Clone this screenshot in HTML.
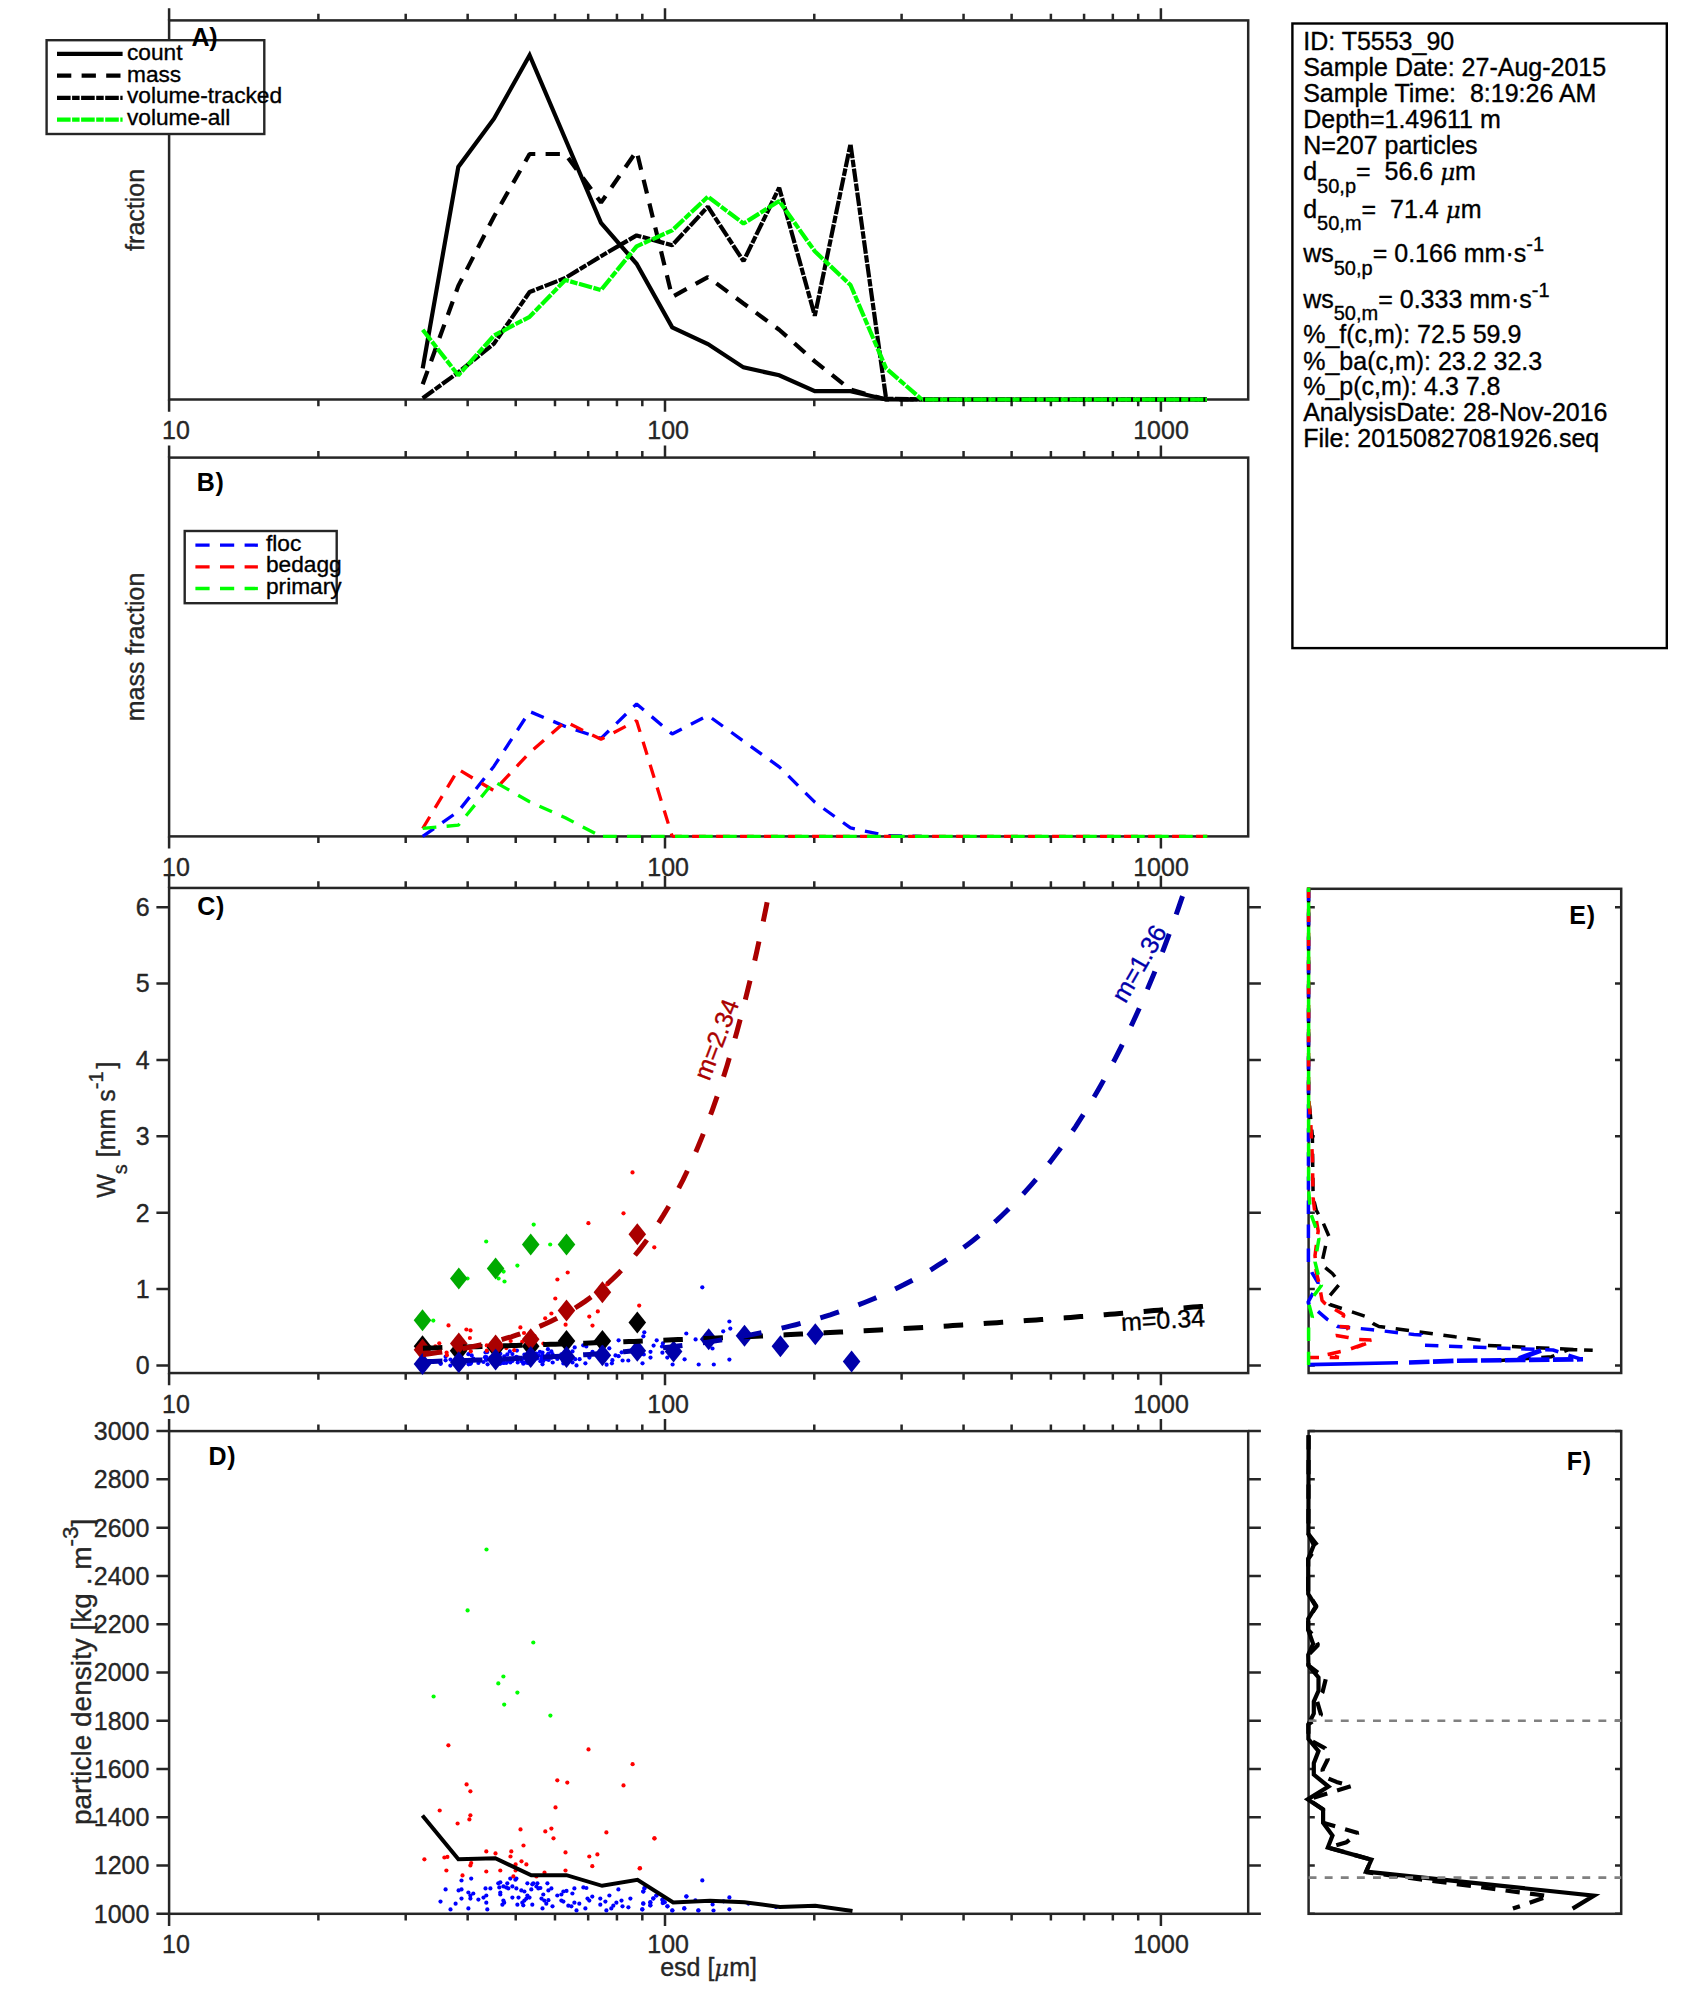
<!DOCTYPE html>
<html lang="en"><head><meta charset="utf-8"><title>T5553_90 particle summary</title>
<style>html,body{margin:0;padding:0;background:#fff}svg{display:block}text{font-family:"Liberation Sans", sans-serif;stroke-width:0.35px;stroke-linejoin:round}</style></head><body>
<svg width="1694" height="2015" viewBox="0 0 1694 2015">
<rect width="1694" height="2015" fill="#fff"/>
<rect x="169.10" y="20.40" width="1079.10" height="379.10" fill="none" stroke="#262626" stroke-width="2.5"/>
<path d="M169.10 399.50v12.2M169.10 20.40v-12.2M318.38 399.50v6.7M318.38 20.40v-6.7M405.70 399.50v6.7M405.70 20.40v-6.7M467.66 399.50v6.7M467.66 20.40v-6.7M515.72 399.50v6.7M515.72 20.40v-6.7M554.99 399.50v6.7M554.99 20.40v-6.7M588.18 399.50v6.7M588.18 20.40v-6.7M616.94 399.50v6.7M616.94 20.40v-6.7M642.31 399.50v6.7M642.31 20.40v-6.7M665.00 399.50v12.2M665.00 20.40v-12.2M814.28 399.50v6.7M814.28 20.40v-6.7M901.60 399.50v6.7M901.60 20.40v-6.7M963.56 399.50v6.7M963.56 20.40v-6.7M1011.62 399.50v6.7M1011.62 20.40v-6.7M1050.89 399.50v6.7M1050.89 20.40v-6.7M1084.08 399.50v6.7M1084.08 20.40v-6.7M1112.84 399.50v6.7M1112.84 20.40v-6.7M1138.21 399.50v6.7M1138.21 20.40v-6.7M1160.90 399.50v12.2M1160.90 20.40v-12.2" stroke="#262626" stroke-width="2.5" fill="none"/>
<text x="176.00" y="439.10" font-size="25" text-anchor="middle" fill="#262626" stroke="#262626" font-weight="normal" >10</text>
<text x="668.10" y="439.10" font-size="25" text-anchor="middle" fill="#262626" stroke="#262626" font-weight="normal" >100</text>
<text x="1161.00" y="439.10" font-size="25" text-anchor="middle" fill="#262626" stroke="#262626" font-weight="normal" >1000</text>
<g id="panelA-lines">
<polyline points="422.7,368.4 458.3,166.9 494.0,118.7 529.6,55.3 565.3,139.0 601.0,222.9 636.6,263.8 672.2,327.3 707.9,344.0 743.5,367.4 779.2,375.3 814.8,391.2 850.5,391.2 886.1,399.5 921.8,399.5 957.5,399.5 993.1,399.5 1028.8,399.5 1064.4,399.5 1100.0,399.5 1135.7,399.5 1171.3,399.5 1207.0,399.5" fill="none" stroke="#000" stroke-width="4.2" stroke-linejoin="miter" stroke-miterlimit="10" />
<polyline points="422.7,384.3 458.3,286.0 494.0,216.5 529.6,154.0 565.3,154.0 601.0,202.6 636.6,151.0 672.2,297.0 707.9,277.1 743.5,303.5 779.2,329.7 814.8,361.4 850.5,389.6 886.1,399.5 921.8,399.5 957.5,399.5 993.1,399.5 1028.8,399.5 1064.4,399.5 1100.0,399.5 1135.7,399.5 1171.3,399.5 1207.0,399.5" fill="none" stroke="#000" stroke-width="4.2" stroke-linejoin="bevel" stroke-miterlimit="10" stroke-dasharray="14.3 10.3" />
<polyline points="422.7,398.2 458.3,372.4 494.0,343.6 529.6,292.0 565.3,278.0 601.0,256.2 636.6,235.4 672.2,245.3 707.9,206.6 743.5,261.2 779.2,187.7 814.8,315.8 850.5,144.1 886.1,398.6 921.8,399.5 957.5,399.5 993.1,399.5 1028.8,399.5 1064.4,399.5 1100.0,399.5 1135.7,399.5 1171.3,399.5 1207.0,399.5" fill="none" stroke="#000" stroke-width="4.2" stroke-linejoin="bevel" stroke-miterlimit="10" stroke-dasharray="13.6 1.5 7.5 1.5" />
<polyline points="422.7,329.7 458.3,375.3 494.0,335.6 529.6,316.8 565.3,280.0 601.0,290.0 636.6,246.3 672.2,230.4 707.9,196.7 743.5,223.5 779.2,201.0 814.8,251.3 850.5,285.0 886.1,368.4 921.8,399.5" fill="none" stroke="#00ff00" stroke-width="4.2" stroke-linejoin="bevel" stroke-miterlimit="10" stroke-dasharray="13.6 1.5 7.5 1.5" />
<path d="M921.80 399.50H923.16M925.06 399.50H938.26M940.16 399.50H947.26M949.16 399.50H962.36M964.26 399.50H971.36M973.26 399.50H986.46M988.36 399.50H995.46M997.36 399.50H1010.56M1012.46 399.50H1019.56M1021.46 399.50H1034.66M1036.56 399.50H1043.66M1045.56 399.50H1058.76M1060.66 399.50H1067.76M1069.66 399.50H1082.86M1084.76 399.50H1091.86M1093.76 399.50H1106.96M1108.86 399.50H1115.96M1117.86 399.50H1131.06M1132.96 399.50H1140.06M1141.96 399.50H1155.16M1157.06 399.50H1164.16M1166.06 399.50H1179.26M1181.16 399.50H1188.26M1190.16 399.50H1203.36M1205.26 399.50H1207.00" stroke="#00ff00" stroke-width="4.2" fill="none"/>
</g>
<text transform="translate(143.6,209.9) rotate(-90)" font-size="25" text-anchor="middle" fill="#262626" stroke="#262626">fraction</text>
<g id="legendA">
<rect x="46.6" y="40.2" width="217.7" height="93.8" fill="#fff" stroke="#262626" stroke-width="2.4"/>
<line x1="57.00" y1="53.90" x2="122.60" y2="53.90" stroke="#000" stroke-width="4.2" />
<line x1="57.00" y1="75.70" x2="122.60" y2="75.70" stroke="#000" stroke-width="4.2" stroke-dasharray="14.3 10.3"/>
<line x1="57.00" y1="97.80" x2="122.60" y2="97.80" stroke="#000" stroke-width="4.2" stroke-dasharray="13.6 1.5 7.5 1.5"/>
<line x1="57.00" y1="119.60" x2="122.60" y2="119.60" stroke="#00ff00" stroke-width="4.2" stroke-dasharray="13.6 1.5 7.5 1.5"/>
<text x="127.00" y="59.50" font-size="22.7" text-anchor="start" fill="#000" stroke="#000" font-weight="normal" >count</text>
<text x="127.00" y="81.60" font-size="22.7" text-anchor="start" fill="#000" stroke="#000" font-weight="normal" >mass</text>
<text x="127.00" y="103.40" font-size="22.7" text-anchor="start" fill="#000" stroke="#000" font-weight="normal" >volume-tracked</text>
<text x="127.00" y="125.20" font-size="22.7" text-anchor="start" fill="#000" stroke="#000" font-weight="normal" >volume-all</text>
</g>
<text x="191.60" y="46.20" font-size="25" text-anchor="start" fill="#000" stroke="#000" font-weight="bold" style="stroke-width:0" letter-spacing="-0.3">A)</text>
<rect x="169.10" y="457.60" width="1079.10" height="378.80" fill="none" stroke="#262626" stroke-width="2.5"/>
<path d="M169.10 836.40v12.2M169.10 457.60v-12.2M318.38 836.40v6.7M318.38 457.60v-6.7M405.70 836.40v6.7M405.70 457.60v-6.7M467.66 836.40v6.7M467.66 457.60v-6.7M515.72 836.40v6.7M515.72 457.60v-6.7M554.99 836.40v6.7M554.99 457.60v-6.7M588.18 836.40v6.7M588.18 457.60v-6.7M616.94 836.40v6.7M616.94 457.60v-6.7M642.31 836.40v6.7M642.31 457.60v-6.7M665.00 836.40v12.2M665.00 457.60v-12.2M814.28 836.40v6.7M814.28 457.60v-6.7M901.60 836.40v6.7M901.60 457.60v-6.7M963.56 836.40v6.7M963.56 457.60v-6.7M1011.62 836.40v6.7M1011.62 457.60v-6.7M1050.89 836.40v6.7M1050.89 457.60v-6.7M1084.08 836.40v6.7M1084.08 457.60v-6.7M1112.84 836.40v6.7M1112.84 457.60v-6.7M1138.21 836.40v6.7M1138.21 457.60v-6.7M1160.90 836.40v12.2M1160.90 457.60v-12.2" stroke="#262626" stroke-width="2.5" fill="none"/>
<text x="176.00" y="876.00" font-size="25" text-anchor="middle" fill="#262626" stroke="#262626" font-weight="normal" >10</text>
<text x="668.10" y="876.00" font-size="25" text-anchor="middle" fill="#262626" stroke="#262626" font-weight="normal" >100</text>
<text x="1161.00" y="876.00" font-size="25" text-anchor="middle" fill="#262626" stroke="#262626" font-weight="normal" >1000</text>
<g id="panelB-lines">
<polyline points="422.7,836.4 458.3,811.4 494.0,766.2 529.6,711.5 565.3,726.4 601.0,738.4 636.6,703.9 672.2,734.0 707.9,715.4 743.5,741.1 779.2,766.8 814.8,802.2 850.5,827.9 886.1,835.6 921.8,836.4" fill="none" stroke="#0000ff" stroke-width="3.3" stroke-linejoin="bevel" stroke-miterlimit="10" stroke-dasharray="13.7 10.3" />
<polyline points="422.7,828.5 458.3,769.4 494.0,790.7 529.6,752.6 565.3,721.6 601.0,739.3 636.6,720.7 672.2,836.4" fill="none" stroke="#ff0000" stroke-width="3.3" stroke-linejoin="bevel" stroke-miterlimit="10" stroke-dasharray="13.7 10.3" />
<polyline points="422.7,828.4 458.3,825.2 494.0,781.5 529.6,801.8 565.3,817.8 601.0,836.4" fill="none" stroke="#00ff00" stroke-width="3.3" stroke-linejoin="bevel" stroke-miterlimit="10" stroke-dasharray="13.7 10.3" />
<path d="M672.25 836.40H681.80M692.10 836.40H705.80M716.10 836.40H729.80M740.10 836.40H753.80M764.10 836.40H777.80M788.10 836.40H801.80M812.10 836.40H825.80M836.10 836.40H849.80M860.10 836.40H873.80M884.10 836.40H897.80M908.10 836.40H921.80M932.10 836.40H945.80M956.10 836.40H969.80M980.10 836.40H993.80M1004.10 836.40H1017.80M1028.10 836.40H1041.80M1052.10 836.40H1065.80M1076.10 836.40H1089.80M1100.10 836.40H1113.80M1124.10 836.40H1137.80M1148.10 836.40H1161.80M1172.10 836.40H1185.80M1196.10 836.40H1207.30" stroke="#ff0000" stroke-width="3.3" fill="none"/>
<path d="M603.00 836.40H616.70M627.00 836.40H640.70M651.00 836.40H664.70M675.00 836.40H688.70M699.00 836.40H712.70M723.00 836.40H736.70M747.00 836.40H760.70M771.00 836.40H784.70M795.00 836.40H808.70M819.00 836.40H832.70M843.00 836.40H856.70M867.00 836.40H880.70M891.00 836.40H904.70M915.00 836.40H928.70M939.00 836.40H952.70M963.00 836.40H976.70M987.00 836.40H1000.70M1011.00 836.40H1024.70M1035.00 836.40H1048.70M1059.00 836.40H1072.70M1083.00 836.40H1096.70M1107.00 836.40H1120.70M1131.00 836.40H1144.70M1155.00 836.40H1168.70M1179.00 836.40H1192.70M1203.00 836.40H1207.30" stroke="#00ff00" stroke-width="3.3" fill="none"/>
</g>
<text transform="translate(143.6,647.0) rotate(-90)" font-size="25" text-anchor="middle" fill="#262626" stroke="#262626">mass fraction</text>
<g id="legendB">
<rect x="184.7" y="531.0" width="152.0" height="72.2" fill="#fff" stroke="#262626" stroke-width="2.4"/>
<line x1="195.40" y1="545.20" x2="257.90" y2="545.20" stroke="#0000ff" stroke-width="3.3" stroke-dasharray="14.2 10.4"/>
<line x1="195.40" y1="566.90" x2="257.90" y2="566.90" stroke="#ff0000" stroke-width="3.3" stroke-dasharray="14.2 10.4"/>
<line x1="195.40" y1="588.50" x2="257.90" y2="588.50" stroke="#00ff00" stroke-width="3.3" stroke-dasharray="14.2 10.4"/>
<text x="266.00" y="550.50" font-size="22.7" text-anchor="start" fill="#000" stroke="#000" font-weight="normal" >floc</text>
<text x="266.00" y="572.30" font-size="22.7" text-anchor="start" fill="#000" stroke="#000" font-weight="normal" >bedagg</text>
<text x="266.00" y="593.90" font-size="22.7" text-anchor="start" fill="#000" stroke="#000" font-weight="normal" >primary</text>
</g>
<text x="196.70" y="491.00" font-size="25" text-anchor="start" fill="#000" stroke="#000" font-weight="bold" style="stroke-width:0" letter-spacing="0.8">B)</text>
<rect x="169.10" y="887.95" width="1079.10" height="485.10" fill="none" stroke="#262626" stroke-width="2.5"/>
<path d="M169.10 1373.05v12.2M169.10 887.95v-12.2M318.38 1373.05v6.7M318.38 887.95v-6.7M405.70 1373.05v6.7M405.70 887.95v-6.7M467.66 1373.05v6.7M467.66 887.95v-6.7M515.72 1373.05v6.7M515.72 887.95v-6.7M554.99 1373.05v6.7M554.99 887.95v-6.7M588.18 1373.05v6.7M588.18 887.95v-6.7M616.94 1373.05v6.7M616.94 887.95v-6.7M642.31 1373.05v6.7M642.31 887.95v-6.7M665.00 1373.05v12.2M665.00 887.95v-12.2M814.28 1373.05v6.7M814.28 887.95v-6.7M901.60 1373.05v6.7M901.60 887.95v-6.7M963.56 1373.05v6.7M963.56 887.95v-6.7M1011.62 1373.05v6.7M1011.62 887.95v-6.7M1050.89 1373.05v6.7M1050.89 887.95v-6.7M1084.08 1373.05v6.7M1084.08 887.95v-6.7M1112.84 1373.05v6.7M1112.84 887.95v-6.7M1138.21 1373.05v6.7M1138.21 887.95v-6.7M1160.90 1373.05v12.2M1160.90 887.95v-12.2" stroke="#262626" stroke-width="2.5" fill="none"/>
<text x="176.00" y="1412.65" font-size="25" text-anchor="middle" fill="#262626" stroke="#262626" font-weight="normal" >10</text>
<text x="668.10" y="1412.65" font-size="25" text-anchor="middle" fill="#262626" stroke="#262626" font-weight="normal" >100</text>
<text x="1161.00" y="1412.65" font-size="25" text-anchor="middle" fill="#262626" stroke="#262626" font-weight="normal" >1000</text>
<text x="149.70" y="1374.40" font-size="25" text-anchor="end" fill="#262626" stroke="#262626" font-weight="normal" >0</text>
<text x="149.70" y="1298.01" font-size="25" text-anchor="end" fill="#262626" stroke="#262626" font-weight="normal" >1</text>
<text x="149.70" y="1221.62" font-size="25" text-anchor="end" fill="#262626" stroke="#262626" font-weight="normal" >2</text>
<text x="149.70" y="1145.23" font-size="25" text-anchor="end" fill="#262626" stroke="#262626" font-weight="normal" >3</text>
<text x="149.70" y="1068.84" font-size="25" text-anchor="end" fill="#262626" stroke="#262626" font-weight="normal" >4</text>
<text x="149.70" y="992.45" font-size="25" text-anchor="end" fill="#262626" stroke="#262626" font-weight="normal" >5</text>
<text x="149.70" y="916.06" font-size="25" text-anchor="end" fill="#262626" stroke="#262626" font-weight="normal" >6</text>
<path d="M169.10 1365.50h-12.7M1248.20 1365.50h12.7M169.10 1289.11h-12.7M1248.20 1289.11h12.7M169.10 1212.72h-12.7M1248.20 1212.72h12.7M169.10 1136.33h-12.7M1248.20 1136.33h12.7M169.10 1059.94h-12.7M1248.20 1059.94h12.7M169.10 983.55h-12.7M1248.20 983.55h12.7M169.10 907.16h-12.7M1248.20 907.16h12.7" stroke="#262626" stroke-width="2.5" fill="none"/>
<clipPath id="clipC"><rect x="169.10" y="886.95" width="1079.10" height="486.10"/></clipPath>
<g fill="#0000ff" clip-path="url(#clipC)"><circle cx="461.5" cy="1360.8" r="2.1"/><circle cx="471.2" cy="1362.7" r="2.1"/><circle cx="445.6" cy="1356.7" r="2.1"/><circle cx="458.6" cy="1363.4" r="2.1"/><circle cx="461.5" cy="1358.2" r="2.1"/><circle cx="468.4" cy="1360.3" r="2.1"/><circle cx="470.4" cy="1363.6" r="2.1"/><circle cx="473.3" cy="1358.6" r="2.1"/><circle cx="470.4" cy="1363.7" r="2.1"/><circle cx="461.5" cy="1359.5" r="2.1"/><circle cx="455.6" cy="1363.5" r="2.1"/><circle cx="440.5" cy="1363.3" r="2.1"/><circle cx="450.5" cy="1359.6" r="2.1"/><circle cx="468.4" cy="1354.2" r="2.1"/><circle cx="478.4" cy="1363.0" r="2.1"/><circle cx="483.5" cy="1362.0" r="2.1"/><circle cx="486.3" cy="1357.0" r="2.1"/><circle cx="485.5" cy="1352.5" r="2.1"/><circle cx="490.4" cy="1357.7" r="2.1"/><circle cx="486.3" cy="1359.9" r="2.1"/><circle cx="487.3" cy="1352.1" r="2.1"/><circle cx="498.3" cy="1363.7" r="2.1"/><circle cx="500.3" cy="1353.8" r="2.1"/><circle cx="499.3" cy="1361.2" r="2.1"/><circle cx="503.4" cy="1362.8" r="2.1"/><circle cx="506.2" cy="1363.0" r="2.1"/><circle cx="508.3" cy="1361.0" r="2.1"/><circle cx="507.3" cy="1354.4" r="2.1"/><circle cx="510.3" cy="1362.4" r="2.1"/><circle cx="515.4" cy="1357.6" r="2.1"/><circle cx="516.4" cy="1356.8" r="2.1"/><circle cx="512.4" cy="1360.2" r="2.1"/><circle cx="516.4" cy="1358.0" r="2.1"/><circle cx="500.3" cy="1363.5" r="2.1"/><circle cx="500.3" cy="1363.6" r="2.1"/><circle cx="503.4" cy="1362.1" r="2.1"/><circle cx="504.2" cy="1356.3" r="2.1"/><circle cx="502.4" cy="1359.6" r="2.1"/><circle cx="512.4" cy="1360.9" r="2.1"/><circle cx="518.5" cy="1357.5" r="2.1"/><circle cx="517.4" cy="1359.2" r="2.1"/><circle cx="521.3" cy="1361.1" r="2.1"/><circle cx="524.4" cy="1354.7" r="2.1"/><circle cx="527.4" cy="1356.0" r="2.1"/><circle cx="532.3" cy="1361.7" r="2.1"/><circle cx="533.3" cy="1357.7" r="2.1"/><circle cx="537.4" cy="1358.3" r="2.1"/><circle cx="536.4" cy="1353.6" r="2.1"/><circle cx="538.4" cy="1355.6" r="2.1"/><circle cx="540.4" cy="1361.2" r="2.1"/><circle cx="531.3" cy="1352.0" r="2.1"/><circle cx="527.4" cy="1363.0" r="2.1"/><circle cx="529.5" cy="1359.7" r="2.1"/><circle cx="526.4" cy="1355.2" r="2.1"/><circle cx="524.4" cy="1362.7" r="2.1"/><circle cx="522.3" cy="1358.8" r="2.1"/><circle cx="523.3" cy="1363.7" r="2.1"/><circle cx="532.3" cy="1356.4" r="2.1"/><circle cx="547.4" cy="1355.1" r="2.1"/><circle cx="551.4" cy="1357.7" r="2.1"/><circle cx="548.4" cy="1353.6" r="2.1"/><circle cx="543.3" cy="1360.9" r="2.1"/><circle cx="541.5" cy="1356.1" r="2.1"/><circle cx="544.3" cy="1357.4" r="2.1"/><circle cx="548.4" cy="1357.6" r="2.1"/><circle cx="546.3" cy="1359.2" r="2.1"/><circle cx="552.5" cy="1354.1" r="2.1"/><circle cx="542.5" cy="1352.6" r="2.1"/><circle cx="557.3" cy="1359.0" r="2.1"/><circle cx="561.4" cy="1356.5" r="2.1"/><circle cx="563.4" cy="1363.5" r="2.1"/><circle cx="561.4" cy="1354.3" r="2.1"/><circle cx="563.4" cy="1361.3" r="2.1"/><circle cx="702.3" cy="1287.3" r="2.1"/><circle cx="729.4" cy="1321.5" r="2.1"/><circle cx="730.3" cy="1328.6" r="2.1"/><circle cx="723.2" cy="1331.3" r="2.1"/><circle cx="729.4" cy="1359.6" r="2.1"/><circle cx="574.7" cy="1347.4" r="2.1"/><circle cx="583.2" cy="1345.3" r="2.1"/><circle cx="586.3" cy="1346.5" r="2.1"/><circle cx="572.5" cy="1351.4" r="2.1"/><circle cx="592.5" cy="1351.8" r="2.1"/><circle cx="609.3" cy="1348.3" r="2.1"/><circle cx="618.6" cy="1340.3" r="2.1"/><circle cx="621.7" cy="1352.3" r="2.1"/><circle cx="615.5" cy="1355.4" r="2.1"/><circle cx="618.6" cy="1356.2" r="2.1"/><circle cx="575.2" cy="1359.2" r="2.1"/><circle cx="579.6" cy="1359.2" r="2.1"/><circle cx="589.4" cy="1357.6" r="2.1"/><circle cx="612.4" cy="1360.2" r="2.1"/><circle cx="622.6" cy="1360.5" r="2.1"/><circle cx="628.3" cy="1360.5" r="2.1"/><circle cx="572.5" cy="1362.4" r="2.1"/><circle cx="576.5" cy="1365.4" r="2.1"/><circle cx="585.4" cy="1363.3" r="2.1"/><circle cx="606.6" cy="1364.7" r="2.1"/><circle cx="611.9" cy="1363.3" r="2.1"/><circle cx="642.5" cy="1363.3" r="2.1"/><circle cx="644.3" cy="1332.3" r="2.1"/><circle cx="643.4" cy="1336.3" r="2.1"/><circle cx="656.7" cy="1340.3" r="2.1"/><circle cx="653.6" cy="1345.6" r="2.1"/><circle cx="650.5" cy="1351.8" r="2.1"/><circle cx="650.5" cy="1357.6" r="2.1"/><circle cx="643.8" cy="1354.5" r="2.1"/><circle cx="662.9" cy="1343.4" r="2.1"/><circle cx="662.0" cy="1346.5" r="2.1"/><circle cx="662.4" cy="1352.7" r="2.1"/><circle cx="667.3" cy="1357.6" r="2.1"/><circle cx="672.6" cy="1364.5" r="2.1"/><circle cx="684.6" cy="1359.3" r="2.1"/><circle cx="686.3" cy="1333.5" r="2.1"/><circle cx="695.6" cy="1339.4" r="2.1"/><circle cx="698.7" cy="1364.5" r="2.1"/><circle cx="712.5" cy="1348.5" r="2.1"/><circle cx="713.8" cy="1364.5" r="2.1"/><circle cx="445.6" cy="1360.3" r="2.1"/><circle cx="450.4" cy="1365.6" r="2.1"/><circle cx="440.7" cy="1363.8" r="2.1"/><circle cx="471.7" cy="1355.4" r="2.1"/><circle cx="468.6" cy="1364.3" r="2.1"/><circle cx="485.0" cy="1357.2" r="2.1"/><circle cx="485.9" cy="1359.0" r="2.1"/><circle cx="487.6" cy="1364.3" r="2.1"/><circle cx="503.6" cy="1363.0" r="2.1"/><circle cx="509.8" cy="1351.4" r="2.1"/><circle cx="516.9" cy="1350.6" r="2.1"/><circle cx="512.4" cy="1354.1" r="2.1"/><circle cx="517.7" cy="1362.5" r="2.1"/><circle cx="523.1" cy="1362.5" r="2.1"/><circle cx="539.9" cy="1351.9" r="2.1"/><circle cx="542.5" cy="1355.4" r="2.1"/><circle cx="541.7" cy="1358.5" r="2.1"/><circle cx="542.5" cy="1364.3" r="2.1"/><circle cx="547.9" cy="1349.2" r="2.1"/><circle cx="551.4" cy="1351.4" r="2.1"/><circle cx="548.7" cy="1359.9" r="2.1"/><circle cx="552.7" cy="1362.5" r="2.1"/><circle cx="478.8" cy="1361.6" r="2.1"/></g>
<g fill="#ff0000"><circle cx="632.5" cy="1172.4" r="2.1"/><circle cx="623.5" cy="1213.3" r="2.1"/><circle cx="588.4" cy="1223.2" r="2.1"/><circle cx="654.3" cy="1247.3" r="2.1"/><circle cx="567.7" cy="1272.5" r="2.1"/><circle cx="557.4" cy="1279.5" r="2.1"/><circle cx="555.3" cy="1298.5" r="2.1"/><circle cx="639.2" cy="1305.6" r="2.1"/><circle cx="597.8" cy="1311.4" r="2.1"/><circle cx="551.4" cy="1313.5" r="2.1"/><circle cx="589.3" cy="1316.6" r="2.1"/><circle cx="545.2" cy="1318.3" r="2.1"/><circle cx="592.5" cy="1325.6" r="2.1"/><circle cx="565.6" cy="1324.7" r="2.1"/><circle cx="448.5" cy="1325.4" r="2.1"/><circle cx="520.4" cy="1327.4" r="2.1"/><circle cx="466.4" cy="1329.5" r="2.1"/><circle cx="470.5" cy="1330.4" r="2.1"/><circle cx="524.0" cy="1333.0" r="2.1"/><circle cx="469.9" cy="1338.0" r="2.1"/><circle cx="439.3" cy="1343.3" r="2.1"/><circle cx="510.7" cy="1341.0" r="2.1"/><circle cx="543.4" cy="1343.6" r="2.1"/><circle cx="522.2" cy="1341.9" r="2.1"/><circle cx="486.8" cy="1345.4" r="2.1"/><circle cx="470.8" cy="1351.3" r="2.1"/><circle cx="486.8" cy="1350.7" r="2.1"/><circle cx="514.2" cy="1350.2" r="2.1"/><circle cx="446.6" cy="1352.5" r="2.1"/><circle cx="446.9" cy="1355.2" r="2.1"/><circle cx="607.2" cy="1284.3" r="2.1"/><circle cx="435.4" cy="1346.3" r="2.1"/><circle cx="459.3" cy="1353.4" r="2.1"/><circle cx="499.2" cy="1343.6" r="2.1"/><circle cx="506.3" cy="1348.1" r="2.1"/><circle cx="526.6" cy="1339.2" r="2.1"/><circle cx="534.6" cy="1336.2" r="2.1"/></g>
<g fill="#00ff00"><circle cx="533.7" cy="1224.6" r="2.1"/><circle cx="486.2" cy="1241.5" r="2.1"/><circle cx="550.2" cy="1244.5" r="2.1"/><circle cx="517.4" cy="1265.6" r="2.1"/><circle cx="503.6" cy="1271.6" r="2.1"/><circle cx="467.5" cy="1278.5" r="2.1"/><circle cx="498.6" cy="1278.5" r="2.1"/><circle cx="504.5" cy="1281.5" r="2.1"/><circle cx="433.3" cy="1320.6" r="2.1"/></g>
<g fill="#000"><path d="M422.5 1335.3L431.3 1346.3L422.5 1357.3L413.7 1346.3z"/><path d="M458.6 1339.7L467.4 1350.7L458.6 1361.7L449.8 1350.7z"/><path d="M495.6 1336.5L504.4 1347.5L495.6 1358.5L486.8 1347.5z"/><path d="M530.7 1335.3L539.5 1346.3L530.7 1357.3L521.9 1346.3z"/><path d="M566.5 1330.0L575.3 1341.0L566.5 1352.0L557.7 1341.0z"/><path d="M602.4 1330.0L611.2 1341.0L602.4 1352.0L593.6 1341.0z"/><path d="M637.3 1311.4L646.1 1322.4L637.3 1333.4L628.5 1322.4z"/></g>
<g fill="#aa0000"><path d="M422.5 1338.8L431.3 1349.8L422.5 1360.8L413.7 1349.8z"/><path d="M458.8 1332.6L467.6 1343.6L458.8 1354.6L450.0 1343.6z"/><path d="M495.6 1334.4L504.4 1345.4L495.6 1356.4L486.8 1345.4z"/><path d="M530.7 1328.2L539.5 1339.2L530.7 1350.2L521.9 1339.2z"/><path d="M566.5 1299.4L575.3 1310.4L566.5 1321.4L557.7 1310.4z"/><path d="M602.4 1281.3L611.2 1292.3L602.4 1303.3L593.6 1292.3z"/><path d="M637.3 1223.2L646.1 1234.2L637.3 1245.2L628.5 1234.2z"/></g>
<g fill="#00aa00"><path d="M422.5 1309.3L431.3 1320.3L422.5 1331.3L413.7 1320.3z"/><path d="M458.8 1267.5L467.6 1278.5L458.8 1289.5L450.0 1278.5z"/><path d="M495.6 1257.4L504.4 1268.4L495.6 1279.4L486.8 1268.4z"/><path d="M530.7 1233.5L539.5 1244.5L530.7 1255.5L521.9 1244.5z"/><path d="M566.5 1233.5L575.3 1244.5L566.5 1255.5L557.7 1244.5z"/></g>
<g fill="#0000aa"><path d="M422.5 1353.0L431.3 1364.0L422.5 1375.0L413.7 1364.0z"/><path d="M458.8 1351.2L467.6 1362.2L458.8 1373.2L450.0 1362.2z"/><path d="M495.6 1348.6L504.4 1359.6L495.6 1370.6L486.8 1359.6z"/><path d="M530.7 1346.0L539.5 1357.0L530.7 1368.0L521.9 1357.0z"/><path d="M566.5 1346.0L575.3 1357.0L566.5 1368.0L557.7 1357.0z"/><path d="M602.4 1344.2L611.2 1355.2L602.4 1366.2L593.6 1355.2z"/><path d="M637.3 1339.7L646.1 1350.7L637.3 1361.7L628.5 1350.7z"/><path d="M673.6 1340.6L682.4 1351.6L673.6 1362.6L664.8 1351.6z"/><path d="M708.7 1328.2L717.5 1339.2L708.7 1350.2L699.9 1339.2z"/><path d="M744.5 1324.7L753.3 1335.7L744.5 1346.7L735.7 1335.7z"/><path d="M780.4 1335.3L789.2 1346.3L780.4 1357.3L771.6 1346.3z"/><path d="M815.3 1323.3L824.1 1334.3L815.3 1345.3L806.5 1334.3z"/><path d="M851.6 1350.4L860.4 1361.4L851.6 1372.4L842.8 1361.4z"/></g>
<polyline points="422.9,1348.2 427.8,1348.1 432.8,1347.9 437.7,1347.8 442.6,1347.6 447.5,1347.5 452.4,1347.4 457.3,1347.2 462.2,1347.1 467.1,1346.9 472.0,1346.8 476.9,1346.7 481.8,1346.5 486.7,1346.4 491.6,1346.2 496.5,1346.1 501.4,1345.9 506.3,1345.8 511.3,1345.6 516.2,1345.4 521.1,1345.3 526.0,1345.1 530.9,1345.0 535.8,1344.8 540.7,1344.7 545.6,1344.5 550.5,1344.3 555.4,1344.2 560.3,1344.0 565.2,1343.8 570.1,1343.7 575.0,1343.5 579.9,1343.3 584.8,1343.2 589.8,1343.0 594.7,1342.8 599.6,1342.6 604.5,1342.4 609.4,1342.3 614.3,1342.1 619.2,1341.9 624.1,1341.7 629.0,1341.5 633.9,1341.4 638.8,1341.2 643.7,1341.0 648.6,1340.8 653.5,1340.6 658.4,1340.4 663.3,1340.2 668.2,1340.0 673.2,1339.8 678.1,1339.6 683.0,1339.4 687.9,1339.2 692.8,1339.0 697.7,1338.8 702.6,1338.6 707.5,1338.4 712.4,1338.2 717.3,1338.0 722.2,1337.7 727.1,1337.5 732.0,1337.3 736.9,1337.1 741.8,1336.9 746.7,1336.6 751.7,1336.4 756.6,1336.2 761.5,1336.0 766.4,1335.7 771.3,1335.5 776.2,1335.3 781.1,1335.0 786.0,1334.8 790.9,1334.6 795.8,1334.3 800.7,1334.1 805.6,1333.8 810.5,1333.6 815.4,1333.3 820.3,1333.1 825.2,1332.8 830.2,1332.6 835.1,1332.3 840.0,1332.1 844.9,1331.8 849.8,1331.5 854.7,1331.3 859.6,1331.0 864.5,1330.8 869.4,1330.5 874.3,1330.2 879.2,1329.9 884.1,1329.7 889.0,1329.4 893.9,1329.1 898.8,1328.8 903.7,1328.5 908.6,1328.2 913.6,1328.0 918.5,1327.7 923.4,1327.4 928.3,1327.1 933.2,1326.8 938.1,1326.5 943.0,1326.2 947.9,1325.9 952.8,1325.6 957.7,1325.2 962.6,1324.9 967.5,1324.6 972.4,1324.3 977.3,1324.0 982.2,1323.7 987.1,1323.3 992.1,1323.0 997.0,1322.7 1001.9,1322.3 1006.8,1322.0 1011.7,1321.7 1016.6,1321.3 1021.5,1321.0 1026.4,1320.6 1031.3,1320.3 1036.2,1319.9 1041.1,1319.6 1046.0,1319.2 1050.9,1318.9 1055.8,1318.5 1060.7,1318.1 1065.6,1317.8 1070.6,1317.4 1075.5,1317.0 1080.4,1316.6 1085.3,1316.3 1090.2,1315.9 1095.1,1315.5 1100.0,1315.1 1104.9,1314.7 1109.8,1314.3 1114.7,1313.9 1119.6,1313.5 1124.5,1313.1 1129.4,1312.7 1134.3,1312.3 1139.2,1311.9 1144.1,1311.5 1149.0,1311.0 1154.0,1310.6 1158.9,1310.2 1163.8,1309.8 1168.7,1309.3 1173.6,1308.9 1178.5,1308.5 1183.4,1308.0 1188.3,1307.6 1193.2,1307.1 1198.1,1306.7 1203.0,1306.2 1207.9,1305.7" fill="none" stroke="#000" stroke-width="5" stroke-linejoin="round" stroke-miterlimit="10" stroke-dasharray="19.5 20.6" clip-path="url(#clipC)"/>
<polyline points="422.9,1354.5 427.8,1353.9 432.8,1353.2 437.7,1352.6 442.6,1351.9 447.5,1351.1 452.4,1350.3 457.3,1349.5 462.2,1348.6 467.1,1347.7 472.0,1346.7 476.9,1345.7 481.8,1344.6 486.7,1343.5 491.6,1342.3 496.5,1341.0 501.4,1339.7 506.3,1338.2 511.3,1336.8 516.2,1335.2 521.1,1333.5 526.0,1331.8 530.9,1329.9 535.8,1328.0 540.7,1325.9 545.6,1323.8 550.5,1321.5 555.4,1319.1 560.3,1316.5 565.2,1313.8 570.1,1311.0 575.0,1308.0 579.9,1304.9 584.8,1301.6 589.8,1298.0 594.7,1294.4 599.6,1290.5 604.5,1286.4 609.4,1282.0 614.3,1277.4 619.2,1272.6 624.1,1267.5 629.0,1262.2 633.9,1256.5 638.8,1250.6 643.7,1244.3 648.6,1237.6 653.5,1230.6 658.4,1223.2 663.3,1215.4 668.2,1207.2 673.2,1198.6 678.1,1189.4 683.0,1179.8 687.9,1169.6 692.8,1158.9 697.7,1147.6 702.6,1135.6 707.5,1123.1 712.4,1109.8 717.3,1095.8 722.2,1081.0 727.1,1065.4 732.0,1049.0 736.9,1031.7 741.8,1013.4 746.7,994.1 751.7,973.8 756.6,952.4 761.5,929.7 766.4,905.9 771.3,880.7 776.2,854.2" fill="none" stroke="#aa0000" stroke-width="5" stroke-linejoin="round" stroke-miterlimit="10" stroke-dasharray="19.5 20.6" clip-path="url(#clipC)"/>
<polyline points="422.9,1361.6 427.8,1361.5 432.8,1361.4 437.7,1361.2 442.6,1361.1 447.5,1361.0 452.4,1360.8 457.3,1360.7 462.2,1360.5 467.1,1360.4 472.0,1360.2 476.9,1360.0 481.8,1359.9 486.7,1359.7 491.6,1359.5 496.5,1359.3 501.4,1359.1 506.3,1358.9 511.3,1358.7 516.2,1358.5 521.1,1358.3 526.0,1358.1 530.9,1357.8 535.8,1357.6 540.7,1357.3 545.6,1357.1 550.5,1356.8 555.4,1356.6 560.3,1356.3 565.2,1356.0 570.1,1355.7 575.0,1355.4 579.9,1355.1 584.8,1354.7 589.8,1354.4 594.7,1354.0 599.6,1353.7 604.5,1353.3 609.4,1352.9 614.3,1352.5 619.2,1352.1 624.1,1351.7 629.0,1351.3 633.9,1350.8 638.8,1350.3 643.7,1349.9 648.6,1349.4 653.5,1348.9 658.4,1348.4 663.3,1347.8 668.2,1347.3 673.2,1346.7 678.1,1346.1 683.0,1345.5 687.9,1344.8 692.8,1344.2 697.7,1343.5 702.6,1342.8 707.5,1342.1 712.4,1341.4 717.3,1340.6 722.2,1339.8 727.1,1339.0 732.0,1338.2 736.9,1337.3 741.8,1336.5 746.7,1335.5 751.7,1334.6 756.6,1333.6 761.5,1332.6 766.4,1331.6 771.3,1330.5 776.2,1329.4 781.1,1328.3 786.0,1327.1 790.9,1325.9 795.8,1324.7 800.7,1323.4 805.6,1322.1 810.5,1320.7 815.4,1319.3 820.3,1317.8 825.2,1316.3 830.2,1314.8 835.1,1313.2 840.0,1311.5 844.9,1309.8 849.8,1308.1 854.7,1306.3 859.6,1304.4 864.5,1302.5 869.4,1300.5 874.3,1298.5 879.2,1296.4 884.1,1294.2 889.0,1291.9 893.9,1289.6 898.8,1287.2 903.7,1284.8 908.6,1282.2 913.6,1279.6 918.5,1276.9 923.4,1274.1 928.3,1271.3 933.2,1268.3 938.1,1265.2 943.0,1262.1 947.9,1258.8 952.8,1255.5 957.7,1252.0 962.6,1248.4 967.5,1244.7 972.4,1240.9 977.3,1237.0 982.2,1233.0 987.1,1228.8 992.1,1224.5 997.0,1220.1 1001.9,1215.5 1006.8,1210.8 1011.7,1205.9 1016.6,1200.9 1021.5,1195.7 1026.4,1190.4 1031.3,1184.9 1036.2,1179.2 1041.1,1173.3 1046.0,1167.3 1050.9,1161.0 1055.8,1154.6 1060.7,1147.9 1065.6,1141.1 1070.6,1134.0 1075.5,1126.8 1080.4,1119.2 1085.3,1111.5 1090.2,1103.5 1095.1,1095.3 1100.0,1086.8 1104.9,1078.0 1109.8,1068.9 1114.7,1059.6 1119.6,1050.0 1124.5,1040.1 1129.4,1029.8 1134.3,1019.3 1139.2,1008.4 1144.1,997.1 1149.0,985.5 1154.0,973.6 1158.9,961.2 1163.8,948.5 1168.7,935.4 1173.6,921.9 1178.5,907.9 1183.4,893.5 1188.3,878.7 1193.2,863.3 1198.1,847.5" fill="none" stroke="#0000aa" stroke-width="5" stroke-linejoin="round" stroke-miterlimit="10" stroke-dasharray="19.5 20.6" clip-path="url(#clipC)"/>
<text transform="translate(709.3,1081.7) rotate(-69)" font-size="25" fill="#aa0000" stroke="#aa0000">m=2.34</text>
<text transform="translate(1125.5,1004.2) rotate(-60)" font-size="25" fill="#0000aa" stroke="#0000aa">m=1.36</text>
<text transform="translate(1121.5,1330.9) rotate(-3.2)" font-size="25" fill="#000" stroke="#000">m=0.34</text>
<text transform="translate(114.8,1197.8) rotate(-90)" font-size="25" fill="#262626" stroke="#262626">W<tspan font-size="20" dy="12.4">s</tspan><tspan dy="-12.4"> [mm s</tspan><tspan font-size="20" dy="-12">-1</tspan><tspan dy="12" dx="3">]</tspan></text>
<text x="197.20" y="914.80" font-size="25" text-anchor="start" fill="#000" stroke="#000" font-weight="bold" style="stroke-width:0" letter-spacing="0.8">C)</text>
<rect x="169.10" y="1431.10" width="1079.10" height="482.70" fill="none" stroke="#262626" stroke-width="2.5"/>
<path d="M169.10 1913.80v12.2M169.10 1431.10v-12.2M318.38 1913.80v6.7M318.38 1431.10v-6.7M405.70 1913.80v6.7M405.70 1431.10v-6.7M467.66 1913.80v6.7M467.66 1431.10v-6.7M515.72 1913.80v6.7M515.72 1431.10v-6.7M554.99 1913.80v6.7M554.99 1431.10v-6.7M588.18 1913.80v6.7M588.18 1431.10v-6.7M616.94 1913.80v6.7M616.94 1431.10v-6.7M642.31 1913.80v6.7M642.31 1431.10v-6.7M665.00 1913.80v12.2M665.00 1431.10v-12.2M814.28 1913.80v6.7M814.28 1431.10v-6.7M901.60 1913.80v6.7M901.60 1431.10v-6.7M963.56 1913.80v6.7M963.56 1431.10v-6.7M1011.62 1913.80v6.7M1011.62 1431.10v-6.7M1050.89 1913.80v6.7M1050.89 1431.10v-6.7M1084.08 1913.80v6.7M1084.08 1431.10v-6.7M1112.84 1913.80v6.7M1112.84 1431.10v-6.7M1138.21 1913.80v6.7M1138.21 1431.10v-6.7M1160.90 1913.80v12.2M1160.90 1431.10v-12.2" stroke="#262626" stroke-width="2.5" fill="none"/>
<text x="176.00" y="1953.40" font-size="25" text-anchor="middle" fill="#262626" stroke="#262626" font-weight="normal" >10</text>
<text x="668.10" y="1953.40" font-size="25" text-anchor="middle" fill="#262626" stroke="#262626" font-weight="normal" >100</text>
<text x="1161.00" y="1953.40" font-size="25" text-anchor="middle" fill="#262626" stroke="#262626" font-weight="normal" >1000</text>
<text x="149.40" y="1922.70" font-size="25" text-anchor="end" fill="#262626" stroke="#262626" font-weight="normal" >1000</text>
<text x="149.40" y="1874.43" font-size="25" text-anchor="end" fill="#262626" stroke="#262626" font-weight="normal" >1200</text>
<text x="149.40" y="1826.16" font-size="25" text-anchor="end" fill="#262626" stroke="#262626" font-weight="normal" >1400</text>
<text x="149.40" y="1777.89" font-size="25" text-anchor="end" fill="#262626" stroke="#262626" font-weight="normal" >1600</text>
<text x="149.40" y="1729.62" font-size="25" text-anchor="end" fill="#262626" stroke="#262626" font-weight="normal" >1800</text>
<text x="149.40" y="1681.35" font-size="25" text-anchor="end" fill="#262626" stroke="#262626" font-weight="normal" >2000</text>
<text x="149.40" y="1633.08" font-size="25" text-anchor="end" fill="#262626" stroke="#262626" font-weight="normal" >2200</text>
<text x="149.40" y="1584.81" font-size="25" text-anchor="end" fill="#262626" stroke="#262626" font-weight="normal" >2400</text>
<text x="149.40" y="1536.54" font-size="25" text-anchor="end" fill="#262626" stroke="#262626" font-weight="normal" >2600</text>
<text x="149.40" y="1488.27" font-size="25" text-anchor="end" fill="#262626" stroke="#262626" font-weight="normal" >2800</text>
<text x="149.40" y="1440.00" font-size="25" text-anchor="end" fill="#262626" stroke="#262626" font-weight="normal" >3000</text>
<path d="M169.10 1913.80h-12.7M1248.20 1913.80h12.7M169.10 1865.53h-12.7M1248.20 1865.53h12.7M169.10 1817.26h-12.7M1248.20 1817.26h12.7M169.10 1768.99h-12.7M1248.20 1768.99h12.7M169.10 1720.72h-12.7M1248.20 1720.72h12.7M169.10 1672.45h-12.7M1248.20 1672.45h12.7M169.10 1624.18h-12.7M1248.20 1624.18h12.7M169.10 1575.91h-12.7M1248.20 1575.91h12.7M169.10 1527.64h-12.7M1248.20 1527.64h12.7M169.10 1479.37h-12.7M1248.20 1479.37h12.7M169.10 1431.10h-12.7M1248.20 1431.10h12.7" stroke="#262626" stroke-width="2.5" fill="none"/>
<g fill="#0000ff"><circle cx="461.5" cy="1880.5" r="2.1"/><circle cx="471.2" cy="1878.6" r="2.1"/><circle cx="445.6" cy="1889.4" r="2.1"/><circle cx="458.6" cy="1890.4" r="2.1"/><circle cx="461.5" cy="1889.4" r="2.1"/><circle cx="468.4" cy="1892.5" r="2.1"/><circle cx="470.4" cy="1895.5" r="2.1"/><circle cx="473.3" cy="1893.5" r="2.1"/><circle cx="470.4" cy="1898.6" r="2.1"/><circle cx="461.5" cy="1898.6" r="2.1"/><circle cx="455.6" cy="1903.7" r="2.1"/><circle cx="440.5" cy="1901.6" r="2.1"/><circle cx="450.5" cy="1909.4" r="2.1"/><circle cx="468.4" cy="1908.4" r="2.1"/><circle cx="478.4" cy="1899.6" r="2.1"/><circle cx="483.5" cy="1897.6" r="2.1"/><circle cx="486.3" cy="1895.5" r="2.1"/><circle cx="485.5" cy="1888.4" r="2.1"/><circle cx="490.4" cy="1888.4" r="2.1"/><circle cx="486.3" cy="1902.7" r="2.1"/><circle cx="487.3" cy="1909.4" r="2.1"/><circle cx="498.3" cy="1883.3" r="2.1"/><circle cx="500.3" cy="1882.3" r="2.1"/><circle cx="499.3" cy="1887.4" r="2.1"/><circle cx="503.4" cy="1886.4" r="2.1"/><circle cx="506.2" cy="1887.4" r="2.1"/><circle cx="508.3" cy="1888.4" r="2.1"/><circle cx="507.3" cy="1883.3" r="2.1"/><circle cx="510.3" cy="1878.6" r="2.1"/><circle cx="515.4" cy="1879.7" r="2.1"/><circle cx="516.4" cy="1878.6" r="2.1"/><circle cx="512.4" cy="1886.4" r="2.1"/><circle cx="516.4" cy="1888.4" r="2.1"/><circle cx="500.3" cy="1892.5" r="2.1"/><circle cx="500.3" cy="1894.5" r="2.1"/><circle cx="503.4" cy="1900.6" r="2.1"/><circle cx="504.2" cy="1902.7" r="2.1"/><circle cx="502.4" cy="1904.7" r="2.1"/><circle cx="512.4" cy="1897.6" r="2.1"/><circle cx="518.5" cy="1897.6" r="2.1"/><circle cx="517.4" cy="1904.7" r="2.1"/><circle cx="521.3" cy="1890.4" r="2.1"/><circle cx="524.4" cy="1891.5" r="2.1"/><circle cx="527.4" cy="1883.3" r="2.1"/><circle cx="532.3" cy="1884.3" r="2.1"/><circle cx="533.3" cy="1883.3" r="2.1"/><circle cx="537.4" cy="1883.3" r="2.1"/><circle cx="536.4" cy="1886.4" r="2.1"/><circle cx="538.4" cy="1888.4" r="2.1"/><circle cx="540.4" cy="1888.0" r="2.1"/><circle cx="531.3" cy="1889.4" r="2.1"/><circle cx="527.4" cy="1895.5" r="2.1"/><circle cx="529.5" cy="1897.6" r="2.1"/><circle cx="526.4" cy="1898.6" r="2.1"/><circle cx="524.4" cy="1900.6" r="2.1"/><circle cx="522.3" cy="1902.7" r="2.1"/><circle cx="523.3" cy="1905.3" r="2.1"/><circle cx="532.3" cy="1904.7" r="2.1"/><circle cx="547.4" cy="1883.3" r="2.1"/><circle cx="551.4" cy="1888.4" r="2.1"/><circle cx="548.4" cy="1890.4" r="2.1"/><circle cx="543.3" cy="1894.5" r="2.1"/><circle cx="541.5" cy="1898.6" r="2.1"/><circle cx="544.3" cy="1900.6" r="2.1"/><circle cx="548.4" cy="1900.2" r="2.1"/><circle cx="546.3" cy="1903.7" r="2.1"/><circle cx="552.5" cy="1906.3" r="2.1"/><circle cx="542.5" cy="1908.4" r="2.1"/><circle cx="557.3" cy="1895.5" r="2.1"/><circle cx="561.4" cy="1894.5" r="2.1"/><circle cx="563.4" cy="1891.5" r="2.1"/><circle cx="566.5" cy="1890.9" r="2.1"/><circle cx="574.4" cy="1888.4" r="2.1"/><circle cx="572.4" cy="1893.5" r="2.1"/><circle cx="561.4" cy="1900.6" r="2.1"/><circle cx="563.4" cy="1901.6" r="2.1"/><circle cx="568.3" cy="1905.7" r="2.1"/><circle cx="571.4" cy="1906.3" r="2.1"/><circle cx="574.4" cy="1902.7" r="2.1"/><circle cx="579.3" cy="1903.7" r="2.1"/><circle cx="576.5" cy="1910.4" r="2.1"/><circle cx="583.4" cy="1887.4" r="2.1"/><circle cx="586.4" cy="1888.0" r="2.1"/><circle cx="592.3" cy="1896.6" r="2.1"/><circle cx="587.5" cy="1898.6" r="2.1"/><circle cx="589.3" cy="1900.6" r="2.1"/><circle cx="585.4" cy="1908.4" r="2.1"/><circle cx="600.3" cy="1898.6" r="2.1"/><circle cx="605.4" cy="1901.6" r="2.1"/><circle cx="600.3" cy="1904.7" r="2.1"/><circle cx="609.4" cy="1895.5" r="2.1"/><circle cx="618.4" cy="1889.4" r="2.1"/><circle cx="613.3" cy="1905.7" r="2.1"/><circle cx="611.3" cy="1908.4" r="2.1"/><circle cx="606.4" cy="1910.4" r="2.1"/><circle cx="616.4" cy="1902.7" r="2.1"/><circle cx="621.5" cy="1900.6" r="2.1"/><circle cx="622.5" cy="1906.3" r="2.1"/><circle cx="628.4" cy="1907.3" r="2.1"/><circle cx="630.4" cy="1898.6" r="2.1"/><circle cx="644.5" cy="1888.4" r="2.1"/><circle cx="643.4" cy="1891.5" r="2.1"/><circle cx="643.4" cy="1903.7" r="2.1"/><circle cx="642.4" cy="1909.4" r="2.1"/><circle cx="650.4" cy="1902.7" r="2.1"/><circle cx="650.4" cy="1905.3" r="2.1"/><circle cx="653.4" cy="1898.6" r="2.1"/><circle cx="656.5" cy="1895.5" r="2.1"/><circle cx="662.4" cy="1899.6" r="2.1"/><circle cx="663.4" cy="1902.7" r="2.1"/><circle cx="667.5" cy="1906.3" r="2.1"/><circle cx="672.3" cy="1910.4" r="2.1"/><circle cx="684.3" cy="1908.4" r="2.1"/><circle cx="686.4" cy="1896.6" r="2.1"/><circle cx="698.4" cy="1910.4" r="2.1"/><circle cx="702.3" cy="1880.4" r="2.1"/><circle cx="686.4" cy="1896.3" r="2.1"/><circle cx="729.4" cy="1897.4" r="2.1"/><circle cx="644.4" cy="1888.0" r="2.1"/><circle cx="643.2" cy="1891.6" r="2.1"/><circle cx="656.3" cy="1895.5" r="2.1"/><circle cx="653.3" cy="1898.3" r="2.1"/><circle cx="650.3" cy="1902.2" r="2.1"/><circle cx="643.2" cy="1903.4" r="2.1"/><circle cx="650.3" cy="1905.4" r="2.1"/><circle cx="662.7" cy="1900.4" r="2.1"/><circle cx="662.7" cy="1903.1" r="2.1"/><circle cx="664.8" cy="1902.2" r="2.1"/><circle cx="667.4" cy="1906.3" r="2.1"/><circle cx="642.3" cy="1909.3" r="2.1"/><circle cx="672.4" cy="1910.5" r="2.1"/><circle cx="684.3" cy="1908.4" r="2.1"/><circle cx="695.4" cy="1900.4" r="2.1"/><circle cx="698.4" cy="1910.5" r="2.1"/><circle cx="712.6" cy="1904.5" r="2.1"/><circle cx="713.5" cy="1910.5" r="2.1"/><circle cx="723.6" cy="1901.3" r="2.1"/><circle cx="729.4" cy="1909.3" r="2.1"/><circle cx="748.4" cy="1903.6" r="2.1"/><circle cx="776.0" cy="1907.1" r="2.1"/></g>
<g fill="#ff0000"><circle cx="448.4" cy="1745.3" r="2.1"/><circle cx="588.5" cy="1749.4" r="2.1"/><circle cx="632.6" cy="1764.2" r="2.1"/><circle cx="557.3" cy="1780.3" r="2.1"/><circle cx="567.3" cy="1782.6" r="2.1"/><circle cx="623.5" cy="1785.4" r="2.1"/><circle cx="466.6" cy="1784.4" r="2.1"/><circle cx="470.4" cy="1791.3" r="2.1"/><circle cx="555.5" cy="1807.4" r="2.1"/><circle cx="439.7" cy="1810.5" r="2.1"/><circle cx="470.4" cy="1815.3" r="2.1"/><circle cx="469.4" cy="1819.4" r="2.1"/><circle cx="457.6" cy="1823.5" r="2.1"/><circle cx="520.5" cy="1829.4" r="2.1"/><circle cx="551.4" cy="1828.6" r="2.1"/><circle cx="545.3" cy="1831.4" r="2.1"/><circle cx="606.4" cy="1832.4" r="2.1"/><circle cx="553.5" cy="1838.3" r="2.1"/><circle cx="654.4" cy="1838.3" r="2.1"/><circle cx="523.5" cy="1845.5" r="2.1"/><circle cx="511.3" cy="1851.4" r="2.1"/><circle cx="486.3" cy="1851.4" r="2.1"/><circle cx="495.5" cy="1853.4" r="2.1"/><circle cx="565.5" cy="1852.4" r="2.1"/><circle cx="597.4" cy="1854.4" r="2.1"/><circle cx="589.3" cy="1856.5" r="2.1"/><circle cx="510.5" cy="1856.5" r="2.1"/><circle cx="424.4" cy="1859.3" r="2.1"/><circle cx="444.4" cy="1857.5" r="2.1"/><circle cx="447.4" cy="1856.9" r="2.1"/><circle cx="521.5" cy="1861.3" r="2.1"/><circle cx="526.4" cy="1864.4" r="2.1"/><circle cx="515.6" cy="1864.4" r="2.1"/><circle cx="471.2" cy="1863.0" r="2.1"/><circle cx="470.4" cy="1865.4" r="2.1"/><circle cx="592.3" cy="1866.2" r="2.1"/><circle cx="639.6" cy="1868.5" r="2.1"/><circle cx="446.4" cy="1870.5" r="2.1"/><circle cx="486.3" cy="1871.5" r="2.1"/><circle cx="500.3" cy="1870.5" r="2.1"/><circle cx="515.6" cy="1870.5" r="2.1"/><circle cx="565.5" cy="1870.5" r="2.1"/><circle cx="544.5" cy="1872.7" r="2.1"/><circle cx="462.5" cy="1875.4" r="2.1"/><circle cx="513.4" cy="1876.4" r="2.1"/><circle cx="536.4" cy="1876.4" r="2.1"/><circle cx="654.5" cy="1838.4" r="2.1"/><circle cx="640.0" cy="1868.2" r="2.1"/></g>
<g fill="#00ff00"><circle cx="486.5" cy="1549.5" r="2.1"/><circle cx="467.6" cy="1610.4" r="2.1"/><circle cx="533.3" cy="1642.5" r="2.1"/><circle cx="503.4" cy="1676.5" r="2.1"/><circle cx="498.3" cy="1683.4" r="2.1"/><circle cx="517.4" cy="1692.6" r="2.1"/><circle cx="433.6" cy="1696.5" r="2.1"/><circle cx="504.2" cy="1704.6" r="2.1"/><circle cx="550.4" cy="1715.6" r="2.1"/></g>
<polyline points="422.4,1815.5 458.4,1859.3 495.3,1858.3 531.3,1875.2 566.5,1875.2 602.1,1885.8 637.5,1879.9 673.2,1902.4 710.0,1900.8 744.5,1902.2 779.9,1907.0 815.3,1905.7 852.5,1911.0" fill="none" stroke="#000" stroke-width="4" stroke-linejoin="miter" stroke-miterlimit="10" />
<text transform="translate(90.9,1671.9) rotate(-90)" font-size="28" text-anchor="middle" fill="#262626" stroke="#262626">particle density [kg . m<tspan font-size="22.4" dy="-13">-3</tspan><tspan dy="13">]</tspan></text>
<text x="708.60" y="1976.40" font-size="25" text-anchor="middle" fill="#262626" stroke="#262626" font-weight="normal" >esd [<tspan font-family="'DejaVu Serif', 'Liberation Serif', serif" font-style="italic" font-size="23">μ</tspan>m]</text>
<text x="208.50" y="1464.50" font-size="25" text-anchor="start" fill="#000" stroke="#000" font-weight="bold" style="stroke-width:0" letter-spacing="0.8">D)</text>
<g id="infobox">
<rect x="1292.4" y="23.5" width="374.4" height="624.6" fill="#fff" stroke="#000" stroke-width="2.4"/>
<text x="1303.2" y="49.6" font-size="25" fill="#000" stroke="#000" xml:space="preserve">ID: T5553_90</text>
<text x="1303.2" y="75.7" font-size="25" fill="#000" stroke="#000" xml:space="preserve">Sample Date: 27-Aug-2015</text>
<text x="1303.2" y="101.5" font-size="25" fill="#000" stroke="#000" xml:space="preserve">Sample Time:  8:19:26 AM</text>
<text x="1303.2" y="127.6" font-size="25" fill="#000" stroke="#000" xml:space="preserve">Depth=1.49611 m</text>
<text x="1303.2" y="153.7" font-size="25" fill="#000" stroke="#000" xml:space="preserve">N=207 particles</text>
<text x="1303.2" y="180.4" font-size="25" fill="#000" stroke="#000" xml:space="preserve">d<tspan font-size="20" dy="12.6">50,p</tspan><tspan dy="-12.6">=  56.6 </tspan><tspan font-family="'DejaVu Serif', 'Liberation Serif', serif" font-style="italic" font-size="23">μ</tspan>m</text>
<text x="1303.2" y="217.5" font-size="25" fill="#000" stroke="#000" xml:space="preserve">d<tspan font-size="20" dy="12.6">50,m</tspan><tspan dy="-12.6">=  71.4 </tspan><tspan font-family="'DejaVu Serif', 'Liberation Serif', serif" font-style="italic" font-size="23">μ</tspan>m</text>
<text x="1303.2" y="261.9" font-size="25" fill="#000" stroke="#000" xml:space="preserve">ws<tspan font-size="20" dy="12.6">50,p</tspan><tspan dy="-12.6">= 0.166 mm·s</tspan><tspan font-size="20" dy="-11">-1</tspan></text>
<text x="1303.2" y="307.6" font-size="25" fill="#000" stroke="#000" xml:space="preserve">ws<tspan font-size="20" dy="12.6">50,m</tspan><tspan dy="-12.6">= 0.333 mm·s</tspan><tspan font-size="20" dy="-11">-1</tspan></text>
<text x="1303.2" y="343.4" font-size="25" fill="#000" stroke="#000" xml:space="preserve">%_f(c,m): 72.5 59.9</text>
<text x="1303.2" y="369.5" font-size="25" fill="#000" stroke="#000" xml:space="preserve">%_ba(c,m): 23.2 32.3</text>
<text x="1303.2" y="395.3" font-size="25" fill="#000" stroke="#000" xml:space="preserve">%_p(c,m): 4.3 7.8</text>
<text x="1303.2" y="421.4" font-size="25" fill="#000" stroke="#000" xml:space="preserve">AnalysisDate: 28-Nov-2016</text>
<text x="1303.2" y="447.3" font-size="25" fill="#000" stroke="#000" xml:space="preserve">File: 20150827081926.seq</text>
</g>
<rect x="1308.60" y="888.80" width="312.60" height="484.20" fill="none" stroke="#262626" stroke-width="2.5"/>
<path d="M1308.60 1365.50h6.2M1621.20 1365.50h-6.2M1308.60 1289.11h6.2M1621.20 1289.11h-6.2M1308.60 1212.72h6.2M1621.20 1212.72h-6.2M1308.60 1136.33h6.2M1621.20 1136.33h-6.2M1308.60 1059.94h6.2M1621.20 1059.94h-6.2M1308.60 983.55h6.2M1621.20 983.55h-6.2M1308.60 907.16h6.2M1621.20 907.16h-6.2" stroke="#262626" stroke-width="2.5" fill="none"/>
<g id="panelE-lines">
<polyline points="1308.6,887.4 1308.6,1096.0 1312.4,1136.8 1313.1,1197.4 1316.3,1210.3 1322.7,1221.9 1329.2,1236.8 1326.0,1243.9 1321.5,1264.5 1332.4,1273.5 1340.2,1283.2 1326.6,1299.4 1329.8,1304.5 1364.7,1316.1 1373.7,1323.9 1378.9,1326.5 1455.0,1336.8 1481.0,1340.2 1483.4,1345.3 1592.7,1350.3 1568.6,1349.6 1551.6,1356.7 1500.0,1360.5" fill="none" stroke="#000" stroke-width="3.5" stroke-linejoin="bevel" stroke-miterlimit="10" stroke-dasharray="13.4 10.66" stroke-dashoffset="22.26" />
<polyline points="1308.6,887.4 1308.4,1262.0 1311.8,1272.3 1318.2,1283.2 1307.9,1302.6 1327.3,1319.4 1337.6,1326.5 1372.4,1329.7 1414.0,1334.5 1421.5,1334.9 1424.8,1345.3 1485.0,1347.5 1553.0,1350.0 1582.0,1359.5" fill="none" stroke="#0000ff" stroke-width="3.5" stroke-linejoin="bevel" stroke-miterlimit="10" stroke-dasharray="13.4 10.66" stroke-dashoffset="23.76" />
<path d="M1308.6 1364.6L1398 1362.7" stroke="#0000ff" stroke-width="3.6" fill="none"/>
<path d="M1409 1362.5L1455 1360.8L1520 1360.0L1583 1359.3" stroke="#0000ff" stroke-width="4.6" fill="none" stroke-dasharray="20.5 3.5"/>
<path d="M1519 1358.5L1541 1350.5" stroke="#0000ff" stroke-width="5" fill="none"/>
<polyline points="1308.6,887.4 1308.6,1096.0 1310.8,1123.9 1312.4,1158.7 1313.1,1197.4 1314.4,1209.0 1318.2,1231.0 1315.0,1255.5 1316.3,1272.3 1318.9,1282.6 1322.1,1300.6 1324.7,1303.2 1344.0,1314.8 1338.9,1326.5 1349.2,1327.1 1336.3,1335.5 1347.9,1337.4 1358.2,1339.4 1371.1,1340.0 1357.0,1347.1 1369.8,1342.0 1346.6,1350.3 1326.0,1354.8 1338.9,1357.4 1309.2,1357.4" fill="none" stroke="#ff0000" stroke-width="3.5" stroke-linejoin="bevel" stroke-miterlimit="10" stroke-dasharray="13.4 10.66" stroke-dashoffset="2.8" />
<polyline points="1308.6,887.4 1308.6,1190.0 1310.5,1212.9 1315.6,1227.1 1318.9,1238.7 1315.0,1261.9 1318.2,1274.8 1321.5,1285.2 1308.6,1303.2 1312.4,1317.4 1308.6,1326.5 1308.6,1365.2" fill="none" stroke="#00ff00" stroke-width="3.5" stroke-linejoin="bevel" stroke-miterlimit="10" stroke-dasharray="13.4 10.66" stroke-dashoffset="8.86" />
</g>
<text x="1569.30" y="924.20" font-size="25" text-anchor="start" fill="#000" stroke="#000" font-weight="bold" style="stroke-width:0" letter-spacing="0.8">E)</text>
<rect x="1308.60" y="1431.10" width="312.60" height="482.70" fill="none" stroke="#262626" stroke-width="2.5"/>
<path d="M1308.60 1913.80h6.2M1621.20 1913.80h-6.2M1308.60 1865.53h6.2M1621.20 1865.53h-6.2M1308.60 1817.26h6.2M1621.20 1817.26h-6.2M1308.60 1768.99h6.2M1621.20 1768.99h-6.2M1308.60 1720.72h6.2M1621.20 1720.72h-6.2M1308.60 1672.45h6.2M1621.20 1672.45h-6.2M1308.60 1624.18h6.2M1621.20 1624.18h-6.2M1308.60 1575.91h6.2M1621.20 1575.91h-6.2M1308.60 1527.64h6.2M1621.20 1527.64h-6.2M1308.60 1479.37h6.2M1621.20 1479.37h-6.2M1308.60 1431.10h6.2M1621.20 1431.10h-6.2" stroke="#262626" stroke-width="2.5" fill="none"/>
<polyline points="1308.6,1435.3 1308.4,1534.0 1317.5,1545.5 1308.2,1559.0 1308.2,1593.8 1316.5,1606.3 1308.2,1618.8 1308.2,1629.9 1313.4,1635.5 1318.0,1645.0 1308.2,1654.9 1308.4,1665.4 1325.8,1678.8 1322.5,1692.2 1317.1,1701.5 1321.1,1714.9 1308.4,1724.3 1308.4,1739.1 1325.2,1748.4 1327.8,1759.2 1322.5,1769.9 1323.8,1776.6 1336.5,1781.9 1351.3,1786.0 1308.4,1799.4 1323.1,1809.4 1323.1,1822.8 1358.0,1832.9 1346.6,1842.2 1328.5,1847.6 1371.4,1859.7 1366.0,1872.2 1548.6,1896.1 1512.9,1908.6" fill="none" stroke="#000" stroke-width="4.2" stroke-linejoin="bevel" stroke-miterlimit="10" stroke-dasharray="14.3 10.3" />
<polyline points="1308.6,1435.3 1308.4,1534.0 1313.8,1545.1 1308.2,1559.0 1308.2,1593.8 1315.9,1606.3 1308.2,1618.8 1308.2,1629.9 1313.1,1643.8 1308.2,1654.9 1308.4,1665.4 1318.5,1677.4 1318.5,1690.8 1313.8,1701.5 1313.8,1713.6 1308.4,1724.3 1308.4,1739.1 1318.5,1751.1 1313.8,1763.2 1313.8,1774.6 1328.5,1786.6 1307.7,1799.4 1323.1,1809.4 1323.1,1822.8 1332.5,1835.5 1327.8,1847.6 1371.4,1859.7 1366.0,1871.7 1594.0,1895.6 1572.6,1908.6" fill="none" stroke="#000" stroke-width="4.2" stroke-linejoin="miter" stroke-miterlimit="10" />
<line x1="1308.60" y1="1720.80" x2="1621.20" y2="1720.80" stroke="#808080" stroke-width="2.6" stroke-dasharray="7.9 8.2"/>
<line x1="1308.60" y1="1877.60" x2="1621.20" y2="1877.60" stroke="#808080" stroke-width="2.6" stroke-dasharray="7.9 8.2"/>
<text x="1566.80" y="1470.40" font-size="25" text-anchor="start" fill="#000" stroke="#000" font-weight="bold" style="stroke-width:0" letter-spacing="0.8">F)</text>
</svg></body></html>
